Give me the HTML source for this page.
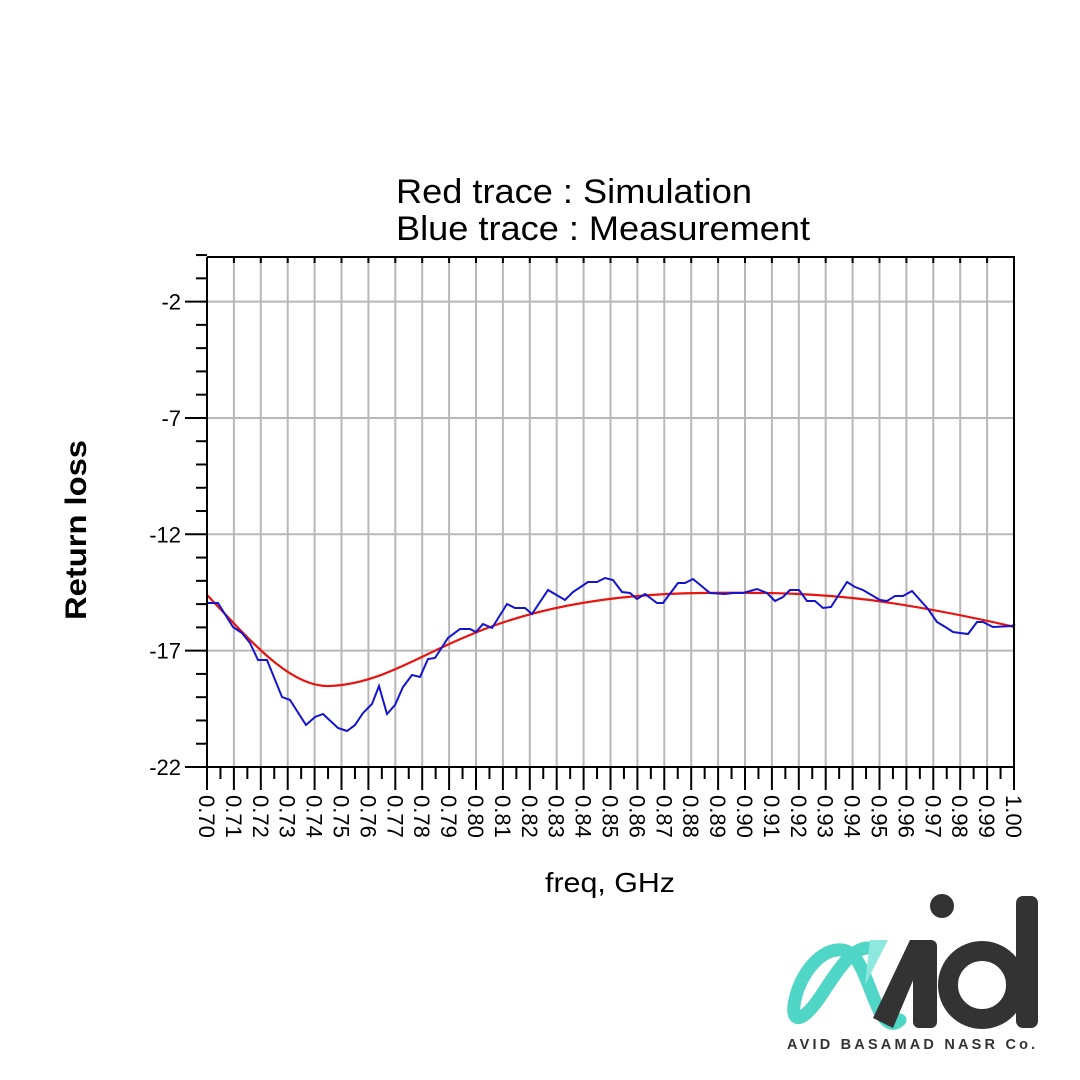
<!DOCTYPE html>
<html><head><meta charset="utf-8"><style>
html,body{margin:0;padding:0;background:#fff;}
svg{display:block;}
text{font-family:"Liberation Sans",Arial,sans-serif;}
</style></head><body>
<svg id="s" width="1080" height="1080" viewBox="0 0 1080 1080" xmlns="http://www.w3.org/2000/svg">
<rect width="1080" height="1080" fill="#fff"/>
<g id="grid"></g>
<text x="396" y="203" font-size="34" textLength="356" lengthAdjust="spacingAndGlyphs" fill="#000">Red trace : Simulation</text>
<text x="396" y="240" font-size="34" textLength="414" lengthAdjust="spacingAndGlyphs" fill="#000">Blue trace : Measurement</text>
<text transform="translate(86,530) rotate(-90)" font-size="30" font-weight="bold" text-anchor="middle" textLength="180" lengthAdjust="spacingAndGlyphs" fill="#000">Return loss</text>
<text x="610" y="892" font-size="28" text-anchor="middle" textLength="130" lengthAdjust="spacingAndGlyphs" fill="#000">freq, GHz</text>
<path fill="none" stroke="#e8140f" stroke-width="2.2" d="M207,595 C250,640 290,688 330,686 C380,684 420,655 470,635 C540,605 620,594 700,593 C780,592 820,594 870,600 C930,608 980,619 1015,627"/>
<polyline fill="none" stroke="#1414d0" stroke-width="2" points="207,603 218,603 233,627 242,633 250,643 258,660 267,660 282,697 290,700 306,725 315,717 323,714 338,728 347,731 355,725 363,713 372,704 379,686 387,714 395,705 403,687 412,675 420,677 428,659 435,658 448,638 460,629 470,629 476,632 483,624 492,628 507,604 515,608 525,608 532,614 548,590 565,600 573,592 588,582 597,582 605,578 613,580 622,592 630,593 637,599 645,594 657,603 663,603 678,583 685,583 693,579 710,593 725,594 733,593 743,593 757,589 767,593 775,601 783,597 790,590 799,590 807,601 815,601 823,608 831,607 847,582 855,587 863,590 880,600 887,601 895,596 903,596 912,591 928,609 937,622 947,628 953,632 960,633 968,634 977,622 983,622 993,627 1012,626 1015,624"/>
<g id="axes"></g>
<g>
<path d="M868,948 C850,948 835,975 818,1000 C800,1025 790,1022 795,1000 C800,975 820,948 842,950 C862,952 868,990 880,1012 C888,1026 895,1025 900,1020" fill="none" stroke="#4fd6c6" stroke-width="13" stroke-linecap="round"/>
<path d="M870,940 L888,940 L865,985 Z" fill="#8ee8de"/>
<path d="M873,1018 L910,940 L930,940 L893,1028 Z" fill="#333"/>
<rect x="913" y="940" width="24" height="88" rx="6" fill="#333"/>
<circle cx="942" cy="906" r="12" fill="#333"/>
<circle cx="982" cy="985" r="34" fill="none" stroke="#333" stroke-width="20"/>
<rect x="1016" y="896" width="22" height="132" rx="7" fill="#333"/>
<text x="787" y="1049" font-size="14.5" font-weight="bold" letter-spacing="3.2" fill="#333">AVID BASAMAD NASR Co.</text>
</g>
</svg>
<script>
var NS="http://www.w3.org/2000/svg";
function el(p,n,a,t){var e=document.createElementNS(NS,n);for(var k in a)e.setAttribute(k,a[k]);if(t)e.textContent=t;document.getElementById(p).appendChild(e);}
var x0=207,x1=1014,dx=(x1-x0)/30,y0=767,uy=23.27;
for(var i=1;i<30;i++){var x=x0+i*dx;el("grid","line",{x1:x,y1:257,x2:x,y2:767,stroke:"#b8b8b8","stroke-width":2});}
[-2,-7,-12,-17].forEach(function(v){var y=y0-(v+22)*uy;el("grid","line",{x1:207,y1:y,x2:1014,y2:y,stroke:"#b8b8b8","stroke-width":2});});
el("axes","line",{x1:207,y1:257,x2:1015,y2:257,stroke:"#000","stroke-width":2});
el("axes","line",{x1:1014,y1:257,x2:1014,y2:768,stroke:"#000","stroke-width":2});
el("axes","line",{x1:207,y1:257,x2:207,y2:768,stroke:"#000","stroke-width":2});
el("axes","line",{x1:206,y1:767,x2:1015,y2:767,stroke:"#000","stroke-width":2});
for(var v=0;v<=22;v++){var y=y0-v*uy;var real=v-22;
 var isMaj=[-22,-17,-12,-7,-2].indexOf(real)>=0;
 el("axes","line",{x1:isMaj?185:196,y1:y,x2:207,y2:y,stroke:"#000","stroke-width":2});
 if(isMaj)el("axes","text",{x:181,y:y+8,"font-size":22,"text-anchor":"end"},String(real));}
for(var i=0;i<=30;i++){var x=x0+i*dx;el("axes","line",{x1:x,y1:767,x2:x,y2:790,stroke:"#000","stroke-width":2});
 var lab=(0.70+i*0.01).toFixed(2);
 el("axes","text",{transform:"translate("+(x-8)+",795) rotate(90)","font-size":22},lab);}
for(var i=0;i<30;i++){var x=x0+(i+0.5)*dx;el("axes","line",{x1:x,y1:767,x2:x,y2:779,stroke:"#000","stroke-width":2});}
for(var i=1;i<30;i++){var x=x0+i*dx;el("axes","line",{x1:x,y1:257,x2:x,y2:263,stroke:"#000","stroke-width":2});}
</script>
</body></html>
